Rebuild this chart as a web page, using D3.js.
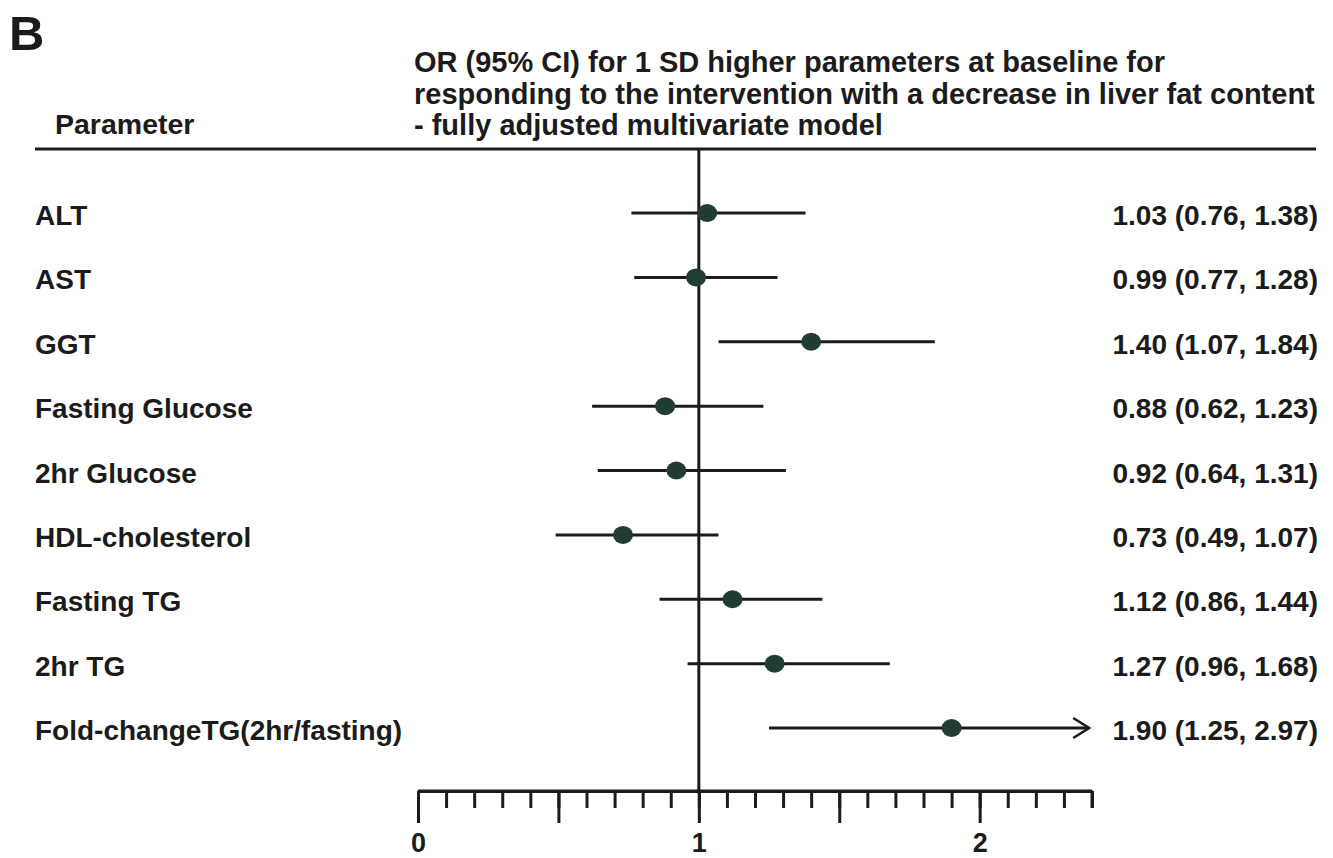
<!DOCTYPE html>
<html>
<head>
<meta charset="utf-8">
<script src="https://cdn.jsdelivr.net/npm/d3@7"></script>
<style>
  body { margin: 0; background: #fff; }
  text { font-family: "Liberation Sans", Arial, sans-serif; font-weight: bold; fill: #1b1b1b; }
</style>
</head>
<body>
<div id="viz"></div>
<script>
// data
var params = ["ALT", "AST", "GGT", "Fasting Glucose", "2hr Glucose", "HDL-cholesterol",
              "Fasting TG", "2hr TG", "Fold-changeTG(2hr/fasting)"];
var orValues = [1.03, 0.99, 1.40, 0.88, 0.92, 0.73, 1.12, 1.27, 1.90];
var ciLow    = [0.76, 0.77, 1.07, 0.62, 0.64, 0.49, 0.86, 0.96, 1.25];
var ciHigh   = [1.38, 1.28, 1.84, 1.23, 1.31, 1.07, 1.44, 1.68, 2.97];
var tickLabels = [0, 1, 2];
var titleLines = ["OR (95% CI) for 1 SD higher parameters at baseline for",
                  "responding to the intervention with a decrease in liver fat content",
                  "- fully adjusted multivariate model"];

var W = 1333, H = 858;
var svg = d3.select("#viz").append("svg")
    .attr("width", W)
    .attr("height", H);

var x = d3.scaleLinear().domain([0, 2.4]).range([418, 1092]);
var y = d3.scalePoint().domain(params).range([213, 728]);

var rows = params.map(function(p, i) {
    return {name: p, or: orValues[i], lo: ciLow[i], hi: ciHigh[i]};
});

// panel letter
svg.append("text")
    .attr("x", 9).attr("y", 50)
    .attr("font-size", 49)
    .text("B");

// header
svg.append("text")
    .attr("x", 55).attr("y", 134)
    .attr("font-size", 28.5)
    .text("Parameter");

svg.selectAll(".title")
    .data(titleLines)
    .enter().append("text")
    .attr("class", "title")
    .attr("x", 414)
    .attr("y", function(d, i) { return 72 + i * 31.5; })
    .attr("font-size", 29)
    .text(function(d) { return d; });

svg.append("line")
    .attr("x1", 35).attr("x2", 1316)
    .attr("y1", 149).attr("y2", 149)
    .attr("stroke", "#1b1b1b")
    .attr("stroke-width", 3);

// reference line at OR = 1
svg.append("line")
    .attr("x1", x(1)).attr("x2", x(1))
    .attr("y1", 150).attr("y2", 791)
    .attr("stroke", "#1b1b1b")
    .attr("stroke-width", 3);

// x axis: minor then major ticks
var axisY = 791;
var minorAxis = d3.axisBottom(x)
    .tickValues(d3.range(0, 25).map(function(i) { return i / 10; }))
    .tickSize(17)
    .tickSizeOuter(0)
    .tickFormat("");
var majorAxis = d3.axisBottom(x)
    .tickValues([0, 0.5, 1, 1.5, 2])
    .tickSize(32)
    .tickSizeOuter(0)
    .tickPadding(10)
    .tickFormat(function(d) { return tickLabels.indexOf(d) >= 0 ? d : ""; });

var gMinor = svg.append("g").attr("transform", "translate(0," + axisY + ")").call(minorAxis);
var gMajor = svg.append("g").attr("transform", "translate(0," + axisY + ")").call(majorAxis);

[gMinor, gMajor].forEach(function(g) {
    g.selectAll("path, line").attr("stroke", "#1b1b1b").attr("stroke-width", 3);
    g.selectAll("text")
        .attr("font-family", "Liberation Sans, Arial, sans-serif")
        .attr("font-weight", "bold")
        .attr("font-size", 27)
        .attr("fill", "#1b1b1b");
});
gMinor.select(".domain").attr("d", "M" + x(0) + ",0H" + x(2.4));

// right end tick at 2.4
svg.append("line")
    .attr("x1", x(2.4)).attr("x2", x(2.4))
    .attr("y1", axisY).attr("y2", axisY + 17)
    .attr("stroke", "#1b1b1b").attr("stroke-width", 3);

// confidence intervals
var xMax = x.domain()[1];
svg.selectAll(".ci")
    .data(rows)
    .enter().append("line")
    .attr("class", "ci")
    .attr("x1", function(d) { return x(d.lo); })
    .attr("x2", function(d) { return x(Math.min(d.hi, xMax - 0.01)); })
    .attr("y1", function(d) { return y(d.name); })
    .attr("y2", function(d) { return y(d.name); })
    .attr("stroke", "#1b1b1b")
    .attr("stroke-width", 3);

// open arrow head for intervals that run off the scale
svg.selectAll(".arrow")
    .data(rows.filter(function(d) { return d.hi > xMax; }))
    .enter().append("path")
    .attr("class", "arrow")
    .attr("d", function(d) {
        var ax = x(xMax - 0.01), ay = y(d.name);
        return "M" + (ax - 16) + "," + (ay - 10) + "L" + ax + "," + ay + "L" + (ax - 16) + "," + (ay + 10);
    })
    .attr("fill", "none")
    .attr("stroke", "#1b1b1b")
    .attr("stroke-width", 2.5);

// point estimates
svg.selectAll(".pt")
    .data(rows)
    .enter().append("ellipse")
    .attr("class", "pt")
    .attr("cx", function(d) { return x(d.or); })
    .attr("cy", function(d) { return y(d.name); })
    .attr("rx", 10)
    .attr("ry", 9)
    .attr("fill", "#213d33");

// row labels
svg.selectAll(".lbl")
    .data(rows)
    .enter().append("text")
    .attr("class", "lbl")
    .attr("x", 35)
    .attr("y", function(d) { return y(d.name) + 12; })
    .attr("font-size", 28)
    .text(function(d) { return d.name; });

svg.selectAll(".val")
    .data(rows)
    .enter().append("text")
    .attr("class", "val")
    .attr("x", 1318)
    .attr("y", function(d) { return y(d.name) + 12; })
    .attr("text-anchor", "end")
    .attr("font-size", 28)
    .text(function(d) { return d.or.toFixed(2) + " (" + d.lo.toFixed(2) + ", " + d.hi.toFixed(2) + ")"; });
</script>
</body>
</html>
